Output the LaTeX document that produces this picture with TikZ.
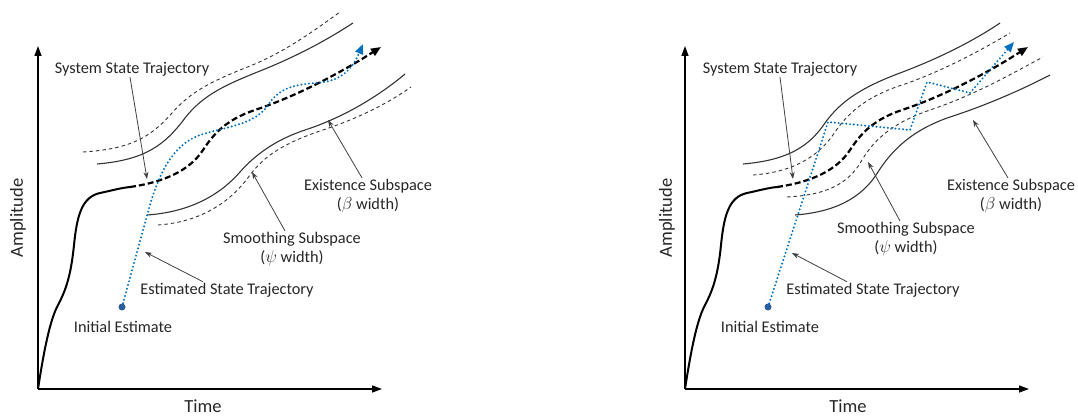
\documentclass[tikz,border=0pt]{standalone}
\usepackage{fontspec}
\setmainfont{Carlito}
\usepackage{tikz}
\usetikzlibrary{arrows.meta,calc}

\definecolor{estblue}{RGB}{0,112,192}
\definecolor{dotblue}{RGB}{50,90,150}

\begin{document}
\begin{tikzpicture}[x=1pt, y=-1pt,
    axis/.style={line width=1.4pt, -{Triangle[length=10pt, width=7pt]}},
    axlabel/.style={font=\fontsize{18.5}{22}\selectfont, text=black!85, inner sep=1pt},
    lbl/.style={font=\fontsize{16.3}{19}\selectfont, align=center, text=black!85, inner sep=1pt},
    note/.style={line width=0.8pt, black!75, -{Stealth[length=7pt, width=5pt]}},
    envsolid/.style={line width=1.1pt, black!80},
    envdash/.style={line width=0.9pt, black!80, dash pattern=on 3.5pt off 3pt},
    sysline/.style={line width=2pt, black},
    sysdash/.style={line width=2.2pt, black, dash pattern=on 6pt off 3pt, -{Triangle[length=10pt, width=8pt]}},
    estline/.style={line width=2.2pt, estblue, line cap=round, dash pattern=on 0pt off 3.8pt, -{Triangle[length=10pt, width=8pt]}},
    init/.style={circle, fill=dotblue, inner sep=0pt, minimum size=7pt}
]
    \useasboundingbox (0,0) rectangle (1078,417);

    % ---- left panel ----
    \coordinate (L0) at (38,389);
    \coordinate (Ly) at (38,46);
    \coordinate (Lx) at (382,389);
    \draw[axis] (L0) -- (Ly);
    \draw[axis] (L0) -- (Lx);
    \node[axlabel, rotate=90] (Lamp) at (18,218) {Amplitude};
    \node[axlabel] (Ltime) at (203,406) {Time};

    % subspaces
    \draw[envdash] (83,152) .. controls (130,149) and (150,138) .. (172,113) .. controls (192,90) and (215,80) .. (250,66) .. controls (285,52) and (315,30) .. (340,12);
    \draw[envsolid] (97,164) .. controls (145,160) and (165,145) .. (185,118) .. controls (203,95) and (225,85) .. (260,71) .. controls (300,55) and (330,38) .. (353,23);
    \draw[envsolid] (147,215) .. controls (190,212) and (220,195) .. (240,172) .. controls (255,155) and (275,140) .. (305,130) .. controls (345,117) and (380,95) .. (405,74);
    \draw[envdash] (158,225) .. controls (200,222) and (230,203) .. (250,175) .. controls (265,155) and (285,143) .. (320,131) .. controls (360,118) and (390,102) .. (411,87);

    % system trajectory
    \draw[sysline] (38,389) .. controls (44,350) and (50,320) .. (58,305) .. controls (66,290) and (71,275) .. (74,245) .. controls (77,215) and (82,197) .. (100,193) .. controls (110,191) and (120,188) .. (130,187);
    \draw[sysdash] (130,187) .. controls (165,182) and (190,170) .. (203,150) .. controls (213,135) and (225,120) .. (255,110) .. controls (300,95) and (345,70) .. (381,47);

    % estimated trajectory
    \node[init] (Linit) at (122,307) {};
    \draw[estline] (Linit.center) -- (148,212) .. controls (158,175) and (172,145) .. (200,135) .. controls (225,127) and (255,125) .. (268,105) .. controls (278,90) and (290,85) .. (315,83) .. controls (340,82) and (352,70) .. (363,44);

    % labels
    \coordinate (Lsys) at (147,179);
    \coordinate (Lexi) at (328,120);
    \coordinate (Lsmo) at (252,172);
    \coordinate (Lest) at (145,252);
    \node[lbl] (Lsyslbl) at (132,69) {System State Trajectory};
    \node[lbl] (Lexilbl) at (368,196) {Existence Subspace\\($\beta$ width)};
    \node[lbl] (Lsmolbl) at (292,249) {Smoothing Subspace\\($\psi$ width)};
    \node[lbl] (Lestlbl) at (227,290) {Estimated State Trajectory};
    \node[lbl] (Linilbl) at (123,327) {Initial Estimate};
    \draw[note] (Lsyslbl.south) ++(-2,0) -- (Lsys);
    \draw[note] (Lexilbl.north) ++(-6,0) -- (Lexi);
    \draw[note] (Lsmolbl.north) ++(-7,0) -- (Lsmo);
    \draw[note] (Lestlbl.north) ++(-24,0) -- (Lest);

    % ---- right panel ----
    \coordinate (R0) at (685,389);
    \coordinate (Ry) at (685,46);
    \coordinate (Rx) at (1029,389);
    \draw[axis] (R0) -- (Ry);
    \draw[axis] (R0) -- (Rx);
    \node[axlabel, rotate=90] (Ramp) at (667,218) {Amplitude};
    \node[axlabel] (Rtime) at (848,406) {Time};

    % subspaces
    \draw[envsolid] (743,164) .. controls (790,160) and (810,145) .. (825,123) .. controls (840,102) and (860,88) .. (900,73) .. controls (940,58) and (975,40) .. (1000,23);
    \draw[envdash] (753,175) .. controls (795,172) and (820,155) .. (835,132) .. controls (850,110) and (870,95) .. (905,84) .. controls (945,70) and (985,48) .. (1010,33);
    \draw[envdash] (787,197) .. controls (825,195) and (848,185) .. (862,160) .. controls (875,138) and (895,122) .. (930,110) .. controls (975,95) and (1015,72) .. (1043,57);
    \draw[envsolid] (795,215) .. controls (835,212) and (862,198) .. (878,172) .. controls (892,150) and (912,130) .. (950,117) .. controls (990,104) and (1025,88) .. (1050,75);

    % system trajectory
    \begin{scope}[xshift=647pt]
        \draw[sysline] (38,389) .. controls (44,350) and (50,320) .. (58,305) .. controls (66,290) and (71,275) .. (74,245) .. controls (77,215) and (82,197) .. (100,193) .. controls (110,191) and (120,188) .. (130,187);
        \draw[sysdash] (130,187) .. controls (165,182) and (190,170) .. (203,150) .. controls (213,135) and (225,120) .. (255,110) .. controls (300,95) and (345,70) .. (381,47);
    \end{scope}

    % estimated trajectory
    \node[init] (Rinit) at (768,307) {};
    \draw[estline] (Rinit.center) -- (828,122) -- (910,130) -- (927,82) -- (970,93) -- (1014,42);

    % labels
    \coordinate (Rsys) at (793,179);
    \coordinate (Rexi) at (973,120);
    \coordinate (Rsmo) at (868,162);
    \coordinate (Rest) at (792,253);
    \node[lbl] (Rsyslbl) at (780,69) {System State Trajectory};
    \node[lbl] (Rexilbl) at (1011,196) {Existence Subspace\\($\beta$ width)};
    \node[lbl] (Rsmolbl) at (906,239) {Smoothing Subspace\\($\psi$ width)};
    \node[lbl] (Restlbl) at (873,290) {Estimated State Trajectory};
    \node[lbl] (Rinilbl) at (770,327) {Initial Estimate};
    \draw[note] (Rsyslbl.south) ++(0,0) -- (Rsys);
    \draw[note] (Rexilbl.north) ++(-3,0) -- (Rexi);
    \draw[note] (Rsmolbl.north) ++(-6,0) -- (Rsmo);
    \draw[note] (Restlbl.north) ++(-26,0) -- (Rest);
\end{tikzpicture}
\end{document}
